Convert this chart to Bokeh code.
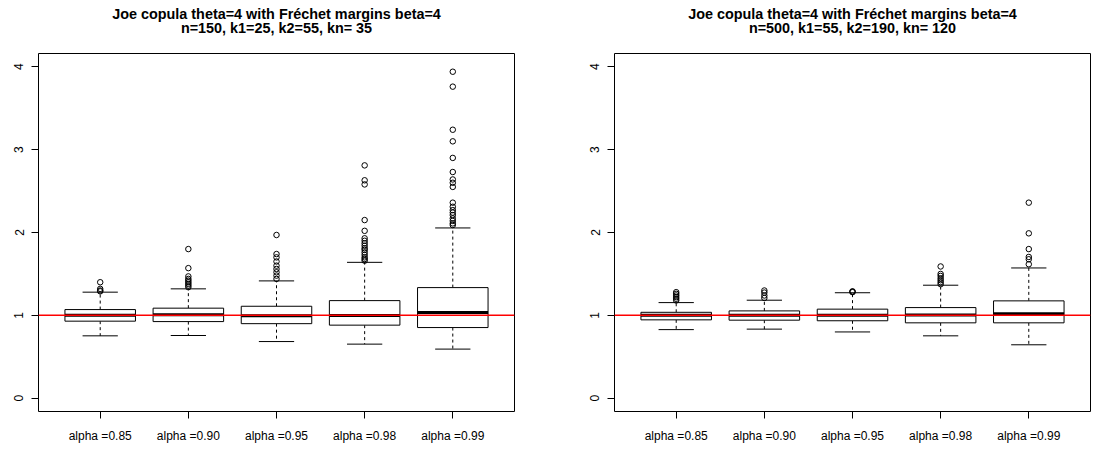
import numpy as np
from bokeh.plotting import figure
from bokeh.models import Range1d, FixedTicker, Span, Title, LinearAxis
from bokeh.layouts import row
from bokeh.embed import file_html
from bokeh.resources import INLINE

categories = ["alpha =0.85", "alpha =0.90", "alpha =0.95", "alpha =0.98", "alpha =0.99"]
y_ticks = [0, 1, 2, 3, 4]
reference_value = 1.0

title_main = "Joe copula theta=4 with Fréchet margins beta=4"
left_subtitle = "n=150, k1=25, k2=55, kn= 35"
right_subtitle = "n=500, k1=55, k2=190, kn= 120"

# ---- left panel (n=150) ----
left_q1 = [0.93, 0.925, 0.90, 0.882, 0.853]
left_median = [1.0, 1.006, 0.995, 0.997, 1.034]
left_q3 = [1.07, 1.087, 1.11, 1.178, 1.335]
left_lower = [0.753, 0.757, 0.684, 0.653, 0.593]
left_upper = [1.28, 1.32, 1.416, 1.64, 2.055]
left_outliers = [
    [1.40, 1.32, 1.30, 1.29],
    [1.80, 1.57, 1.47, 1.44, 1.42, 1.40, 1.38, 1.36, 1.34],
    [1.97, 1.74, 1.70, 1.65, 1.60, 1.56, 1.52, 1.48, 1.44],
    [2.81, 2.63, 2.58, 2.15, 2.02, 1.93, 1.90, 1.87, 1.84, 1.81, 1.79, 1.76, 1.73, 1.70, 1.68, 1.66],
    [3.94, 3.76, 3.24, 3.10, 2.90, 2.73, 2.64, 2.60, 2.55, 2.36, 2.31, 2.27, 2.24, 2.21, 2.17, 2.14, 2.11, 2.09],
]

# ---- right panel (n=500) ----
right_q1 = [0.946, 0.942, 0.935, 0.91, 0.91]
right_median = [1.0, 1.0, 1.0, 1.003, 1.02]
right_q3 = [1.037, 1.054, 1.075, 1.094, 1.175]
right_lower = [0.828, 0.834, 0.80, 0.753, 0.645]
right_upper = [1.154, 1.183, 1.273, 1.364, 1.572]
right_outliers = [
    [1.28, 1.26, 1.24, 1.22, 1.20, 1.18],
    [1.30, 1.275, 1.24, 1.21],
    [1.29, 1.285, 1.28],
    [1.59, 1.50, 1.476, 1.448, 1.424, 1.40, 1.376],
    [2.36, 1.99, 1.80, 1.705, 1.677, 1.617],
]

FONT = "Liberation Sans"


def make_panel(subtitle, q1, med, q3, lo, hi, outl, width, border_right):
    p = figure(width=width, height=455,
               x_range=Range1d(0.3, 5.7), y_range=Range1d(-0.16, 4.16),
               output_backend="svg", toolbar_location=None,
               min_border_left=38, min_border_right=border_right,
               min_border_top=53, min_border_bottom=44)
    p.title = None
    # invisible spacer between frame and title
    spacer = LinearAxis(ticker=FixedTicker(ticks=[3]), axis_line_color=None,
                        major_tick_line_color="white", major_tick_line_alpha=0.001,
                        minor_tick_line_color=None,
                        major_tick_in=0, major_tick_out=17, minor_tick_out=0,
                        major_label_overrides={3: ""},
                        major_label_text_font_size="1px",
                        major_label_text_alpha=0.001,
                        major_label_standoff=0, axis_label_standoff=0)
    p.add_layout(spacer, "above")
    p.add_layout(Title(text=title_main + "\n" + subtitle, align="center",
                       text_align="center",
                       text_font=FONT, text_font_size="14.4px",
                       text_font_style="bold", text_line_height=0.92,
                       text_color="black", standoff=0), "above")
    p.grid.visible = False
    p.background_fill_color = "white"
    p.border_fill_color = "white"
    p.outline_line_color = "black"
    p.outline_line_width = 1

    x = np.arange(1, len(categories) + 1)
    q1 = np.array(q1); q3 = np.array(q3); med = np.array(med)
    lo = np.array(lo); hi = np.array(hi)

    # whiskers
    p.segment(x0=x, y0=q3, x1=x, y1=hi, line_color="black", line_width=1, line_dash="3 3")
    p.segment(x0=x, y0=q1, x1=x, y1=lo, line_color="black", line_width=1, line_dash="3 3")
    # staples
    p.segment(x0=x - 0.2, y0=hi, x1=x + 0.2, y1=hi, line_color="black", line_width=1)
    p.segment(x0=x - 0.2, y0=lo, x1=x + 0.2, y1=lo, line_color="black", line_width=1)
    # boxes
    p.quad(left=x - 0.4, right=x + 0.4, bottom=q1, top=q3,
           fill_color="white", line_color="black", line_width=1)
    # medians
    p.segment(x0=x - 0.4, y0=med, x1=x + 0.4, y1=med, line_color="black", line_width=3)
    # outliers
    ox = [x[i] for i, vals in enumerate(outl) for _ in vals]
    oy = [v for vals in outl for v in vals]
    p.scatter(ox, oy, marker="circle", size=5.5, fill_color=None,
              line_color="black", line_width=1)

    p.add_layout(Span(location=reference_value, dimension="width",
                      line_color="red", line_width=1.5))

    # axes
    xa = p.below[0]
    xa.ticker = FixedTicker(ticks=list(x))
    xa.major_label_overrides = {int(v): c for v, c in zip(x, categories)}
    ya = p.left[0]
    ya.ticker = FixedTicker(ticks=y_ticks)
    ya.major_label_orientation = "vertical"
    for ax in (xa, ya):
        ax.axis_line_color = None
        ax.major_tick_line_color = "black"
        ax.major_tick_in = 0
        ax.major_tick_out = 7
        ax.minor_tick_line_color = None
        ax.major_label_text_font = FONT
        ax.major_label_text_font_size = "12px"
        ax.major_label_text_color = "black"
    xa.major_label_standoff = 10
    ya.major_label_standoff = 8
    return p


p1 = make_panel(left_subtitle, left_q1, left_median, left_q3, left_lower,
                left_upper, left_outliers, 576, 62)
p2 = make_panel(right_subtitle, right_q1, right_median, right_q3, right_lower,
                right_upper, right_outliers, 518, 4)

layout = row(p1, p2)
open("out.html", "w").write(file_html(layout, INLINE))
